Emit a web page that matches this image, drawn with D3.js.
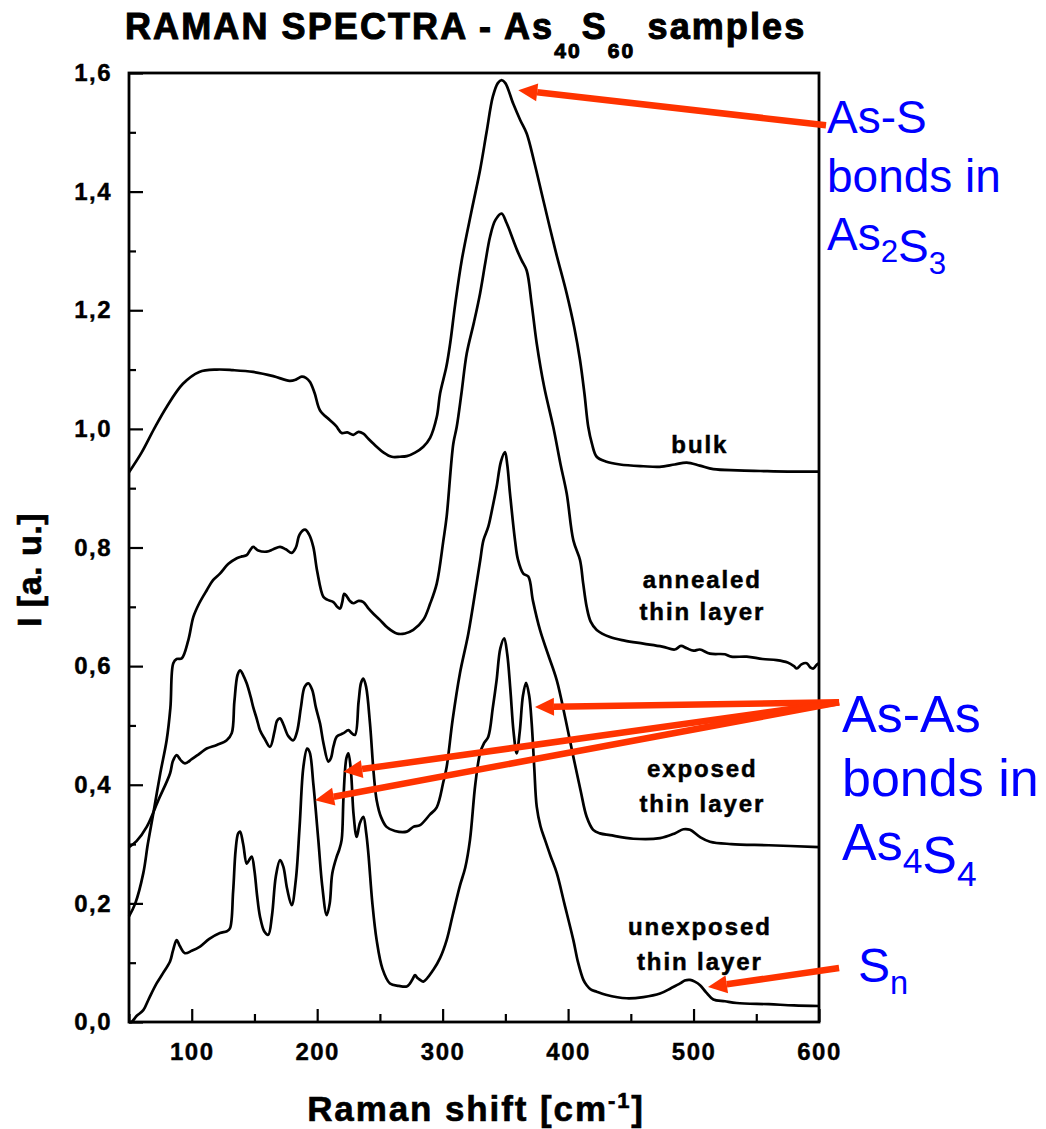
<!DOCTYPE html>
<html>
<head>
<meta charset="utf-8">
<script src="https://cdn.jsdelivr.net/npm/d3@7"></script>
<style>
body{margin:0;background:#fff;}
text{font-family:"Liberation Sans",Arial,Helvetica,sans-serif;}
</style>
</head>
<body>
<div class="chart_raman"></div>
<script>
// spectra: [Raman shift cm-1, intensity a.u.]
var bulk = [[50,0.927],[60,0.96],[70,1.0],[80,1.037],[93,1.076],[106,1.096],[120,1.100],[133,1.099],[149,1.096],[165,1.089],[178,1.081],[183,1.083],[187.7,1.088],[191,1.086],[194.3,1.079],[198,1.06],[202.3,1.031],[210,1.015],[215,1.005],[219.5,0.993],[224,0.994],[228.8,0.990],[233,0.995],[236.8,0.992],[241,0.983],[247.4,0.970],[253,0.960],[259.4,0.953],[266,0.953],[271.4,0.954],[278,0.960],[284.6,0.970],[290,0.985],[295.3,1.02],[298,1.06],[303,1.105],[306,1.144],[310,1.21],[315.2,1.284],[323.2,1.369],[329.8,1.436],[335,1.50],[340,1.56],[344,1.583],[347,1.588],[350,1.583],[356.3,1.548],[362,1.52],[367,1.498],[373,1.45],[380.3,1.385],[390,1.30],[398.9,1.228],[405,1.17],[409.5,1.116],[413,1.06],[416.1,1.003],[419,0.975],[422.8,0.953],[430,0.945],[441.4,0.940],[460,0.937],[473,0.936],[485,0.940],[494.6,0.943],[505,0.938],[515.8,0.932],[535,0.930],[553.3,0.929],[575,0.928],[600,0.928]];

var annealed = [[50,0.178],[55,0.20],[61.4,0.251],[65,0.30],[69.4,0.352],[75,0.42],[80,0.475],[83,0.53],[85.3,0.605],[88,0.612],[92,0.613],[97.3,0.644],[101.3,0.683],[106,0.706],[112,0.728],[117,0.745],[122.5,0.756],[129,0.772],[135.9,0.782],[140,0.785],[143.8,0.787],[147,0.797],[149,0.801],[153,0.795],[159.8,0.793],[165,0.797],[170.4,0.801],[175,0.797],[179.7,0.791],[183,0.80],[186,0.822],[190.3,0.830],[193.5,0.822],[196.9,0.801],[200,0.76],[204.9,0.717],[208,0.712],[212.9,0.708],[216,0.700],[218.2,0.697],[220,0.708],[221.5,0.722],[223.5,0.718],[226,0.710],[228.8,0.706],[233,0.710],[236.8,0.708],[241,0.697],[245,0.688],[250,0.678],[256,0.665],[263.4,0.655],[270,0.655],[276.6,0.661],[284.6,0.678],[290,0.705],[295.3,0.739],[300.6,0.812],[303.2,0.852],[308.5,0.975],[311.2,1.003],[315,1.06],[319.2,1.127],[325,1.18],[329.8,1.228],[334,1.28],[337.8,1.324],[342,1.352],[347,1.363],[351,1.347],[356.3,1.318],[360,1.298],[363,1.284],[367,1.267],[371,1.21],[375,1.144],[381,1.07],[388.2,1.003],[394,0.94],[398.9,0.891],[404.2,0.812],[409.5,0.779],[412,0.74],[414.8,0.700],[418,0.675],[422.8,0.661],[433.4,0.649],[445,0.643],[460,0.638],[475,0.633],[485,0.628],[490,0.634],[494.6,0.630],[500,0.626],[505,0.628],[513.1,0.621],[525,0.620],[530,0.616],[542.4,0.616],[555,0.612],[566.3,0.610],[575,0.606],[580,0.600],[582.3,0.596],[586,0.603],[590.2,0.605],[593,0.598],[595.5,0.596],[598,0.602],[600,0.605]];

var exposed = [[50,0.295],[56,0.305],[64.1,0.329],[73.4,0.374],[82.7,0.419],[85,0.44],[88,0.450],[91,0.442],[94.6,0.436],[100,0.443],[106,0.452],[111.9,0.461],[120,0.467],[127.9,0.475],[131.9,0.487],[134,0.54],[136.5,0.585],[138.5,0.593],[141,0.585],[143.8,0.571],[147,0.548],[149,0.531],[152,0.51],[154.4,0.492],[158,0.478],[162.4,0.464],[166,0.49],[168,0.508],[170.4,0.512],[173,0.502],[177,0.482],[181,0.475],[184,0.49],[187,0.53],[190,0.565],[193,0.571],[196,0.56],[199,0.53],[202.3,0.503],[205,0.47],[208.9,0.439],[211,0.445],[213,0.465],[215.6,0.481],[219,0.485],[221,0.487],[224.9,0.492],[227,0.488],[230.1,0.484],[233,0.54],[235,0.572],[236.8,0.579],[239,0.565],[242.1,0.503],[245,0.42],[247.4,0.374],[251,0.345],[255.3,0.329],[262,0.322],[271.4,0.321],[276.6,0.329],[282,0.332],[290,0.350],[295.3,0.362],[300.6,0.405],[303.2,0.43],[308,0.51],[313.8,0.588],[320.5,0.655],[327,0.739],[330,0.779],[332.5,0.812],[336.4,0.835],[340,0.87],[343,0.902],[346.5,0.945],[349.7,0.961],[351.5,0.94],[353.7,0.891],[357.7,0.812],[360,0.78],[364.3,0.756],[368.3,0.751],[372,0.71],[377.6,0.661],[384,0.62],[391,0.576],[398,0.51],[404.2,0.447],[410,0.39],[414.8,0.346],[420,0.324],[425.4,0.318],[433.4,0.315],[452,0.309],[473.3,0.310],[485,0.318],[492,0.325],[497.2,0.324],[505,0.312],[513.1,0.304],[530,0.300],[560,0.298],[600,0.295]];

var unexposed = [[50,0.0],[52,0.0],[56,0.01],[61.4,0.020],[66,0.04],[72,0.065],[77,0.082],[82.7,0.102],[85,0.12],[88,0.138],[90.5,0.128],[94.6,0.116],[100,0.120],[106.6,0.127],[114,0.14],[122.5,0.150],[128,0.153],[130.5,0.158],[133,0.22],[135,0.29],[137,0.318],[138.5,0.321],[141,0.30],[143.8,0.267],[145.5,0.272],[147.8,0.279],[150,0.255],[152,0.215],[154.4,0.178],[158,0.152],[161,0.147],[164,0.18],[167,0.245],[170.4,0.273],[173,0.262],[176,0.225],[179.7,0.197],[183,0.24],[186,0.33],[189,0.43],[192,0.461],[194,0.455],[197,0.40],[200.9,0.307],[204,0.23],[207.6,0.180],[210,0.20],[212,0.25],[215.6,0.279],[217.5,0.29],[219.5,0.307],[221,0.38],[223.3,0.445],[224.9,0.453],[227,0.42],[229,0.35],[231.5,0.312],[234,0.335],[236.8,0.346],[239,0.32],[240.8,0.284],[244,0.20],[247.4,0.138],[252,0.09],[258,0.065],[265,0.061],[271.4,0.060],[274,0.065],[276,0.072],[278,0.079],[280,0.074],[282,0.071],[284.6,0.068],[292.6,0.088],[298,0.108],[303.2,0.138],[308,0.18],[313.8,0.23],[318,0.26],[321.8,0.307],[326,0.40],[329.8,0.453],[333,0.47],[336.4,0.481],[340,0.53],[343,0.576],[346,0.63],[349.1,0.647],[351.5,0.62],[354,0.56],[356.5,0.49],[359,0.453],[361.5,0.49],[364,0.55],[366.5,0.572],[369,0.55],[371,0.503],[373,0.43],[375,0.363],[378,0.33],[381.6,0.307],[386,0.28],[391,0.251],[397,0.20],[404.2,0.138],[408,0.10],[412.2,0.071],[414.8,0.062],[418,0.055],[422.8,0.051],[430,0.046],[446.7,0.040],[460,0.042],[473.3,0.048],[482,0.057],[489.3,0.065],[493,0.070],[497.2,0.071],[501,0.068],[505.2,0.062],[510,0.050],[515.8,0.038],[525,0.035],[534.4,0.032],[560,0.030],[580,0.028],[600,0.027]];

var xMajor = [100,200,300,400,500,600];
var xMinor = [50,150,250,350,450,550];
var yMajor = [0,0.2,0.4,0.6,0.8,1.0,1.2,1.4,1.6];
var yMinor = [0.1,0.3,0.5,0.7,0.9,1.1,1.3,1.5];
var yTickLabels = ["0,0","0,2","0,4","0,6","0,8","1,0","1,2","1,4","1,6"];

// sample names, two lines each, placed at [shift, intensity] of each line's baseline
var sampleLabels = [
  {lines:["bulk"], x:505, y:[0.959]},
  {lines:["annealed","thin layer"], x:507, y:[0.731,0.678]},
  {lines:["exposed","thin layer"], x:507, y:[0.413,0.354]},
  {lines:["unexposed","thin layer"], x:505, y:[0.147,0.088]}
];

// arrows: tail (outside the frame) -> tip, in data units
var arrowsAsS = [[[605.6,1.512],[360.3,1.571]]];
var arrowsAsAs = [[[616,0.539],[373.6,0.531]],[[616,0.539],[220.8,0.422]],[[616,0.539],[198.3,0.374]]];
var arrowsSn = [[[616,0.091],[511.5,0.059]]];

var margin = {top:73, right:227, bottom:107, left:129},
    width = 1046 - margin.left - margin.right,
    height = 1129 - margin.top - margin.bottom;

var chartArea = d3.select(".chart_raman");
var root = chartArea.append("svg")
  .attr("width", 1046)
  .attr("height", 1129);

var svg = root.append("g")
  .attr("transform","translate("+margin.left+","+margin.top+")");

var xScale = d3.scaleLinear().domain([50,600]).range([0,width]);
var yScale = d3.scaleLinear().domain([0,1.6]).range([height,0]);

// title
var title = root.append("text")
  .attr("x",125).attr("y",39)
  .style("font-size","36px").style("font-weight","bold")
  .style("letter-spacing","2.1px")
  .attr("stroke","#000").attr("stroke-width",1);
title.append("tspan").text("RAMAN SPECTRA - As");
title.append("tspan").attr("dy",19).style("font-size","21px").text("40");
title.append("tspan").attr("dy",-19).text("S");
title.append("tspan").attr("dy",19).style("font-size","21px").text("60");
title.append("tspan").attr("dy",-19).text(" samples");

// axes with inward ticks
function styleAxis(g){
  g.select(".domain").remove();
  g.selectAll(".tick line").attr("stroke","#000").attr("stroke-width",2.2);
  g.selectAll(".tick text")
    .attr("fill","#000")
    .attr("stroke","#000").attr("stroke-width",0.4)
    .style("font-size","24px").style("font-weight","bold")
    .style("letter-spacing","1.5px")
    .style("font-family","'Liberation Sans',Arial,sans-serif");
}

var xAxis = svg.append("g")
  .attr("class","x axis")
  .attr("transform","translate(0,"+height+")")
  .call(d3.axisBottom(xScale).tickValues(xMajor).tickSize(-13).tickPadding(21).tickFormat(d3.format("d")));
styleAxis(xAxis);

var xAxisMinor = svg.append("g")
  .attr("transform","translate(0,"+height+")")
  .call(d3.axisBottom(xScale).tickValues(xMinor).tickSize(-8).tickFormat(""));
styleAxis(xAxisMinor);

var yAxis = svg.append("g")
  .attr("class","y axis")
  .call(d3.axisLeft(yScale).tickValues(yMajor).tickSize(-14).tickPadding(17)
    .tickFormat(function(d,i){return yTickLabels[i];}));
styleAxis(yAxis);

var yAxisMinor = svg.append("g")
  .call(d3.axisLeft(yScale).tickValues(yMinor).tickSize(-7).tickFormat(""));
styleAxis(yAxisMinor);

// frame
svg.append("rect")
  .attr("x",0).attr("y",0)
  .attr("width",width).attr("height",height)
  .attr("fill","none").attr("stroke","#000").attr("stroke-width",2.8);

// axis titles
var xTitle = root.append("text")
  .attr("x",476).attr("y",1121)
  .attr("text-anchor","middle")
  .style("font-size","35px").style("font-weight","bold")
  .style("letter-spacing","1.9px")
  .attr("stroke","#000").attr("stroke-width",0.6);
xTitle.append("tspan").text("Raman shift [cm");
xTitle.append("tspan").attr("dy",-13).style("font-size","22px").text("-1");
xTitle.append("tspan").attr("dy",13).text("]");

root.append("text")
  .attr("transform","translate(41,570) rotate(-90)")
  .attr("text-anchor","middle")
  .style("font-size","34px").style("font-weight","bold")
  .style("letter-spacing","0.5px")
  .attr("stroke","#000").attr("stroke-width",0.6)
  .text("I [a. u.]");

// spectra
var line = d3.line()
  .x(function(d){return xScale(d[0]);})
  .y(function(d){return yScale(d[1]);})
  .curve(d3.curveCatmullRom.alpha(0.5));

var spectra = [bulk, annealed, exposed, unexposed];
svg.selectAll(".spectrum")
  .data(spectra)
  .enter().append("path")
  .attr("class","spectrum")
  .attr("fill","none")
  .attr("stroke","#000")
  .attr("stroke-width",2.7)
  .attr("stroke-linejoin","round")
  .attr("d",line);

// sample names
sampleLabels.forEach(function(lab){
  lab.lines.forEach(function(t,i){
    svg.append("text")
      .attr("x",xScale(lab.x)).attr("y",yScale(lab.y[i]))
      .attr("text-anchor","middle")
      .style("font-size","24px").style("font-weight","bold")
      .style("letter-spacing","1.9px")
      .attr("fill","#000")
      .attr("stroke","#000").attr("stroke-width",0.5)
      .text(t);
  });
});

// red arrows
var arrowColor = "#ff3300";
function drawArrow(a){
  var x1 = xScale(a[0][0]), y1 = yScale(a[0][1]),
      x2 = xScale(a[1][0]), y2 = yScale(a[1][1]);
  var ang = Math.atan2(y2-y1, x2-x1);
  var headLen = 19, headW = 9;
  var bx = x2 - headLen*Math.cos(ang), by = y2 - headLen*Math.sin(ang);
  svg.append("line")
    .attr("x1",x1).attr("y1",y1).attr("x2",bx).attr("y2",by)
    .attr("stroke",arrowColor).attr("stroke-width",6.5);
  var px = -Math.sin(ang)*headW, py = Math.cos(ang)*headW;
  svg.append("path")
    .attr("d","M"+x2+","+y2+"L"+(bx+px)+","+(by+py)+"L"+(bx-px)+","+(by-py)+"Z")
    .attr("fill",arrowColor);
}
arrowsAsS.concat(arrowsAsAs, arrowsSn).forEach(drawArrow);

// blue annotations
function blueBlock(x, y0, size, lineGap, rows){
  rows.forEach(function(parts,i){
    var t = root.append("text")
      .attr("x",x).attr("y",y0 + i*lineGap)
      .attr("fill","#0000ff")
      .style("font-size",size+"px");
    parts.forEach(function(p){
      if(typeof p === "string"){
        t.append("tspan").text(p);
      }else{
        t.append("tspan").attr("dy",p.dy).style("font-size",(size*0.68)+"px").text(p.sub);
        t.append("tspan").attr("dy",-p.dy).text("");
      }
    });
  });
}
blueBlock(827,133,46,58.5,[["As-S"],["bonds in"],["As",{sub:"2",dy:12},"S",{sub:"3",dy:12}]]);
blueBlock(842,732,52,64,[["As-As"],["bonds in"],["As",{sub:"4",dy:13},"S",{sub:"4",dy:13}]]);
blueBlock(858,982,48,0,[["S",{sub:"n",dy:12}]]);
</script>
</body>
</html>
